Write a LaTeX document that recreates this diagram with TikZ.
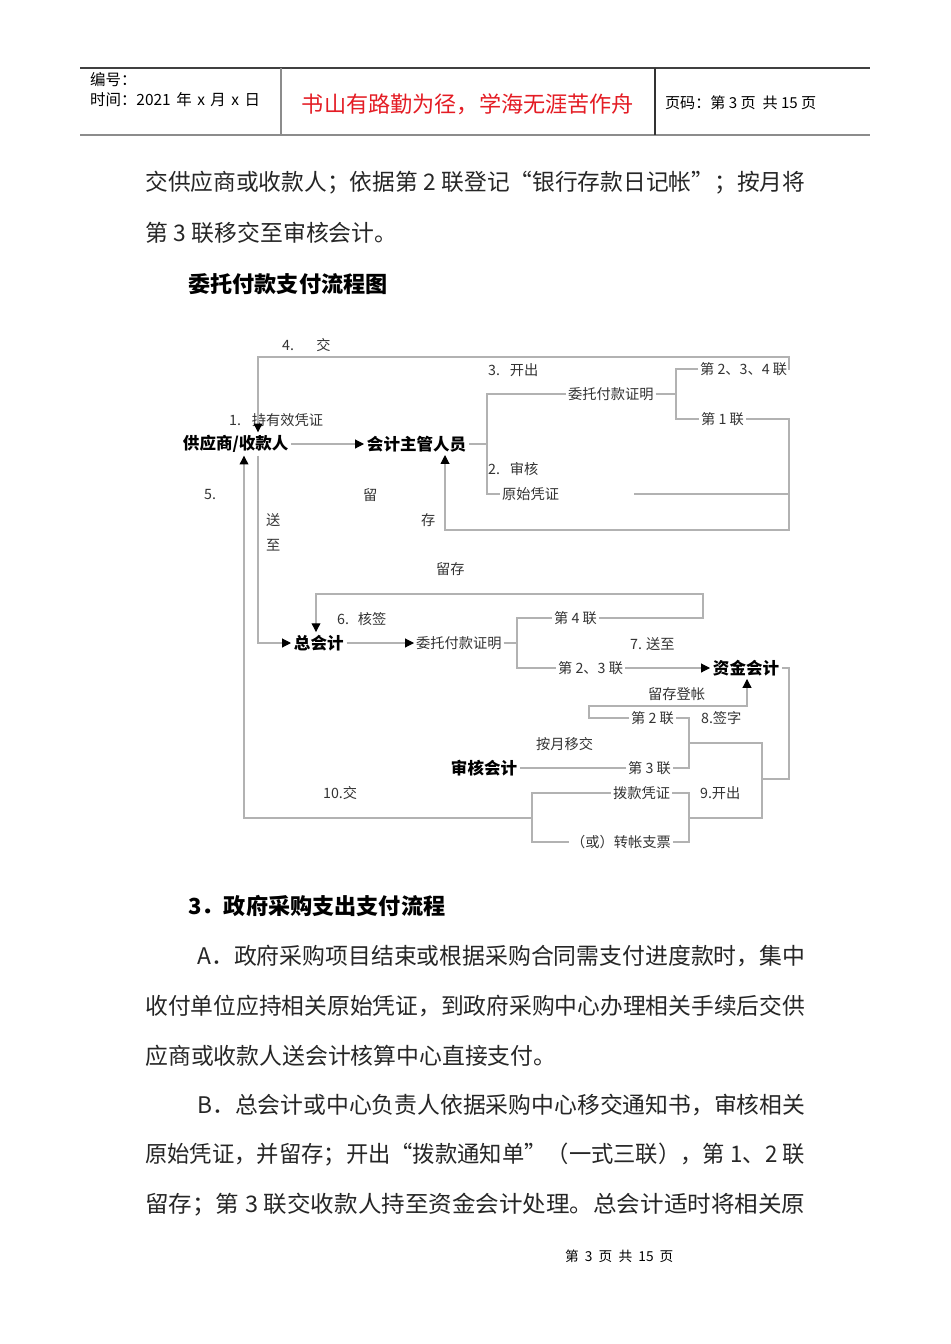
\documentclass[tikz,border=0pt]{standalone}
\usepackage{fontspec}
\setmainfont{Noto Sans CJK SC}
\usetikzlibrary{arrows.meta}
\usetikzlibrary{calc}
\definecolor{titred}{RGB}{228,28,36}
\newcommand{\fsz}[1]{\fontsize{#1}{#1}\selectfont}
\newcommand{\gp}{\hspace{0.11cm}}
\newcommand{\fitline}[2]{\resizebox{#1}{\height}{#2}}

\begin{document}
\begin{tikzpicture}[x=0.02cm,y=-0.02cm,
        link/.style={draw=black!30,line width=0.6pt},
        arr/.style={link,-{Triangle[length=5pt,width=5pt,color=black]}},
        box/.style={inner sep=1.5pt,font=\fsz{9.4}\bfseries,anchor=west},
        lbl/.style={inner sep=1pt,font=\fsz{8.1},text=black!80,anchor=west},
        para/.style={inner sep=0pt,font=\fsz{13},text=black!85,anchor=west},
        head/.style={inner sep=0pt,font=\fsz{12.6}\bfseries,anchor=west}]
        \fill[white] (0,0) rectangle (950,1344);
        \useasboundingbox (0,0) rectangle (950,1344);

        % page header
        \draw[black!75,line width=0.7pt] (80,68) -- (870,68);
        \draw[black!45,line width=1.2pt] (80,135) -- (870,135);
        \draw[black!45,line width=0.7pt] (281,68) -- (281,135);
        \draw[black!80,line width=0.7pt] (655,68) -- (655,135);
        \node[lbl,text=black,font=\fsz{8.8}] (hno) at (88,80) {编号：};
        \node[lbl,text=black,font=\fsz{8.8}] (hdate) at (88,100) {时间：2021\gp 年\gp x\gp 月\gp x\gp 日};
        \node[inner sep=0pt,font=\fsz{12.6},text=titred] (htitle) at (468,104) {书山有路勤为径，学海无涯苦作舟};
        \node[lbl,text=black,font=\fsz{8.6}] (hpage) at (663,103) {页码：第 3 页 \ 共 15 页};

        % text above
        \node[para] (p1) at (145,183) {\fitline{13.2cm}{交供应商或收款人；依据第\gp 2\gp 联登记“银行存款日记帐”；按月将}};
        \node[para] (p2) at (145,233) {第\gp 3\gp 联移交至审核会计。};
        \node[head] (h1) at (188,284) {委托付款支付流程图};

        % flowchart nodes
        \node[box] (gys) at (180,444) {供应商/收款人};
        \node[box] (kjzg) at (364,444) {会计主管人员};
        \node[box] (zkj) at (291,643) {总会计};
        \node[box] (zjkj) at (710,668) {资金会计};
        \node[box] (shkj) at (448,768) {审核会计};

        \node[lbl] (wt1) at (566,394) {委托付款证明};
        \node[lbl] (ysz) at (500,494) {原始凭证};
        \node[lbl] (l234) at (698,369) {第 2、3、4 联};
        \node[lbl] (l1) at (699,419) {第 1 联};
        \node[lbl] (wt2) at (414,643) {委托付款证明};
        \node[lbl] (l4) at (552,618) {第 4 联};
        \node[lbl] (l23) at (556,668) {第 2、3 联};
        \node[lbl] (l2) at (629,718) {第 2 联};
        \node[lbl] (l3) at (626,768) {第 3 联};
        \node[lbl] (bkpz) at (611,793) {拨款凭证};
        \node[lbl] (zzzp) at (569,842) {（或）转帐支票};

        % step labels
        \node[lbl] (t4) at (280,345) {4.\hspace{0.45cm}交};
        \node[lbl] (t3) at (486,370) {3.\hspace{0.2cm}开出};
        \node[lbl] (t1) at (227,420) {1.\hspace{0.22cm}持有效凭证};
        \node[lbl] (t2) at (486,469) {2.\hspace{0.2cm}审核};
        \node[lbl] (t5) at (202,495) {5.};
        \node[lbl] (tliu) at (361,495) {留};
        \node[lbl] (tcun) at (419,520) {存};
        \node[lbl] (tsong) at (264,520) {送};
        \node[lbl] (tzhi) at (264,545) {至};
        \node[lbl] (tlc) at (434,569) {留存};
        \node[lbl] (t6) at (335,619) {6.\hspace{0.18cm}核签};
        \node[lbl] (t7) at (628,644) {7. 送至};
        \node[lbl] (tdz) at (646,694) {留存登帐};
        \node[lbl] (t8) at (699,718) {8.签字};
        \node[lbl] (tyj) at (534,744) {按月移交};
        \node[lbl] (t9) at (698,793) {9.开出};
        \node[lbl] (t10) at (321,793) {10.交};

        % bend points
        \coordinate (jTop) at (258,357);
        \coordinate (jTop2) at (789,357);
        \coordinate (jA) at (487,444);
        \coordinate (jB) at (676,394);
        \coordinate (jR1) at (789,530);
        \coordinate (jL1) at (445,530);
        \coordinate (jC) at (532,818);
        \coordinate (jS) at (244,818);
        \coordinate (jD) at (258,643);
        \coordinate (jE) at (703,594);
        \coordinate (jE2) at (316,594);
        \coordinate (jF) at (517,643);
        \coordinate (jG) at (589,706);
        \coordinate (jG2) at (747,706);
        \coordinate (jH) at (689,743);
        \coordinate (jI) at (689,818);
        \coordinate (jK1) at (762,743);
        \coordinate (jK2) at (762,818);
        \coordinate (jM) at (789,779);

        % connectors
        \draw[arr] (gys.east) -- (kjzg.west);
        \draw[arr] (l234.east) -| (jTop2) -- (jTop) -- (jTop |- gys.north);
        \draw[link] (kjzg.east) -- (jA);
        \draw[link] (wt1.west) -| (jA) |- (ysz.west);
        \draw[link] (wt1.east) -- (jB);
        \draw[link] (l234.west) -| (jB) |- (l1.west);
        \draw[arr] (l1.east) -| (jR1) -- (jL1) -- (jL1 |- kjzg.south);
        \draw[link,shorten <=1.46cm] (ysz.east) -- (ysz.east -| jR1);
        \draw[link] (bkpz.west) -| (jC) |- (zzzp.west);
        \draw[arr] (jC) -- (jS) -- (jS |- gys.south);
        \draw[arr] (jTop |- gys.south) -- (jD) -- (zkj.west);
        \draw[arr] (zkj.east) -- (wt2.west);
        \draw[arr] (l4.east) -| (jE) -- (jE2) -- (jE2 |- zkj.north);
        \draw[link] (wt2.east) -- (jF);
        \draw[link] (l4.west) -| (jF) |- (l23.west);
        \draw[arr] (l23.east) -- (zjkj.west);
        \draw[arr] (l2.west) -| (jG) -- (jG2) -- (jG2 |- zjkj.south);
        \draw[link] (zjkj.east) -| (jM) -- (jM -| jK1);
        \draw[link] (l2.east) -| (jH) |- (l3.east);
        \draw[link] (bkpz.east) -| (jI) |- (zzzp.east);
        \draw[link] (jH) -- (jK1) -- (jK2) -- (jI);
        \draw[link] (l3.west) -- (shkj.east);

        % text below
        \node[head] (h2) at (188,906) {3．政府采购支出支付流程};
        \node[para] (p3) at (197,956) {\fitline{12.16cm}{A．政府采购项目结束或根据采购合同需支付进度款时，集中}};
        \node[para] (p4) at (145,1006) {\fitline{13.2cm}{收付单位应持相关原始凭证，到政府采购中心办理相关手续后交供}};
        \node[para] (p5) at (145,1056) {应商或收款人送会计核算中心直接支付。};
        \node[para] (p6) at (197,1105) {\fitline{12.16cm}{B．总会计或中心负责人依据采购中心移交通知书，审核相关}};
        \node[para] (p7) at (145,1155) {\fitline{13.2cm}{原始凭证，并留存；开出“拨款通知单”（一式三联），第\gp 1、2\gp 联}};
        \node[para] (p8) at (145,1205) {\fitline{13.2cm}{留存；第\gp 3\gp 联交收款人持至资金会计处理。总会计适时将相关原}};
        \node[lbl,text=black,font=\fsz{7.8}] (foot) at (563,1256) {第 \ 3 \ 页 \ 共 \ 15 \ 页};
    \end{tikzpicture}
\end{document}
